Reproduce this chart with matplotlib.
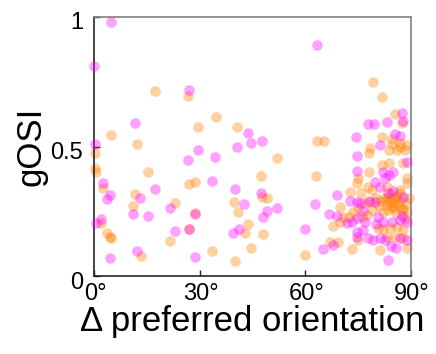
import matplotlib
matplotlib.use("Agg")
import matplotlib.pyplot as plt
import matplotlib.transforms as mtransforms

mag_x = [4.8, 0, 27, 11.6, 0.3, 26.7, 29.5, 2.6, 4.5, 3.7, 13, 17.3, 11.1, 15.3, 21.6, 2, 0.6, 28.7, 23, 27, 12.2, 4.5, 28.7,
         43.7, 44.6, 47.7, 40.6, 34.4, 33.5, 40, 47.4, 42.6, 49, 52, 48, 41.2, 39.5, 60,
         63.3, 87.4, 87.7, 83.2, 77.8, 79.5, 74.4, 85.5, 86.9, 81.2, 74.7, 88.9, 74.7, 82, 82.6, 79.8, 81.2, 69, 87.7, 62.7,
         72.7, 74.7, 75.5, 79.8, 66.7, 69, 71.7, 73.3, 74.7, 80.6, 82, 84.6, 86.9, 88.9, 76.5, 74.7, 74.7, 77.8, 79.2, 81.2,
         82.6, 86.9, 88.9, 67.9, 65, 84.4, 85.8, 83.5,
         83.5, 85, 78, 76.5, 87.5, 80, 77, 84.9, 83.8]
mag_y = [0.98, 0.81, 0.72, 0.59, 0.51, 0.448, 0.486, 0.36, 0.313, 0.297, 0.30, 0.336, 0.24, 0.232, 0.263, 0.22, 0.205, 0.24, 0.174, 0.18, 0.097, 0.07, 0.073,
         0.552, 0.513, 0.52, 0.50, 0.46, 0.367, 0.336, 0.32, 0.278, 0.25, 0.263, 0.228, 0.18, 0.166, 0.18,
         0.89, 0.63, 0.60, 0.595, 0.587, 0.587, 0.537, 0.55, 0.54, 0.506, 0.463, 0.44, 0.405, 0.40, 0.38, 0.363, 0.344, 0.313, 0.305, 0.278,
         0.29, 0.286, 0.282, 0.286, 0.24, 0.232, 0.206, 0.21, 0.224, 0.228, 0.208, 0.208, 0.216, 0.208, 0.178, 0.17, 0.15, 0.145, 0.139, 0.145,
         0.139, 0.145, 0.139, 0.12, 0.104, 0.116, 0.108, 0.062,
         0.32, 0.33, 0.29, 0.25, 0.23, 0.20, 0.21, 0.40, 0.39]

ora_x = [17.3, 26.7, 4.8, 12.2, 29.5, 0.3, 0.3, 0.6, 15.3, 2.6, 11.6, 27, 28.7, 11.1, 23, 2, 28.7, 27, 3.7, 4.5, 4.8, 21.6, 13.4,
         34.6, 40.6, 52, 47.4, 49, 47.7, 39.7, 41, 43.7, 42.9, 48, 44.6, 33.5, 40, 60,
         79.2, 81.8, 85.5, 87.4, 63.3, 65.3, 81.8, 84.6, 86.9, 88.9, 78.4, 84.6, 86.9, 88.3, 86.1, 83.8, 78, 81.8, 83.8, 87.7,
         63, 78, 75, 89, 74.7, 77.8, 72.7, 75.8, 79, 83.2, 86.9, 88.9, 83.5, 85, 84, 85.5, 83.2, 77, 78.4, 81.2, 82.6,
         69.8, 73.6, 75, 79, 82, 83.5, 84.9, 87.4, 88.9, 70.7, 72.4, 76.2, 77.5, 67.9, 69.8, 80.6, 82, 84, 86.1, 87.7,
         75, 83.2, 85.5, 87.7, 67, 69.3, 73.3, 81.2, 89,
         85.5, 87, 88.5, 86.5, 84.5, 87.8, 86, 89.3, 83, 85.8, 81, 80, 84.2, 86.8, 88.2]
ora_y = [0.714, 0.695, 0.545, 0.51, 0.575, 0.475, 0.417, 0.40, 0.40, 0.34, 0.317, 0.355, 0.363, 0.27, 0.282, 0.205, 0.243, 0.18, 0.166, 0.15, 0.145, 0.135, 0.077,
         0.614, 0.575, 0.455, 0.386, 0.30, 0.305, 0.286, 0.247, 0.20, 0.166, 0.162, 0.108, 0.097, 0.058, 0.08,
         0.75, 0.69, 0.625, 0.59, 0.52, 0.52, 0.537, 0.53, 0.50, 0.506, 0.494, 0.51, 0.514, 0.486, 0.486, 0.486, 0.475, 0.43, 0.436, 0.436,
         0.386, 0.40, 0.38, 0.38, 0.36, 0.344, 0.324, 0.32, 0.332, 0.344, 0.332, 0.36, 0.305, 0.30, 0.286, 0.282, 0.274, 0.28, 0.286, 0.29, 0.30,
         0.266, 0.247, 0.263, 0.255, 0.247, 0.255, 0.263, 0.255, 0.247, 0.228, 0.228, 0.228, 0.236, 0.193, 0.208, 0.185, 0.181, 0.185, 0.189, 0.178,
         0.139, 0.151, 0.151, 0.147, 0.13, 0.13, 0.104, 0.10, 0.108,
         0.30, 0.29, 0.28, 0.27, 0.265, 0.26, 0.31, 0.30, 0.29, 0.245, 0.27, 0.30, 0.315, 0.32, 0.22]

x_ticks = [0, 30, 60, 90]
x_ticklabels = ["0°", "30°", "60°", "90°"]
y_ticks = [0, 0.5, 1]
y_ticklabels = ["0", "0.5", "1"]

plt.rcParams['font.family'] = ['Liberation Sans', 'DejaVu Sans']

fig = plt.figure(figsize=(4.36, 3.54), dpi=100)
ax = fig.add_axes([0.2156, 0.2203, 0.7271, 0.7317])

ax.scatter(ora_x, ora_y, s=58, color='#FF8000', alpha=0.37, linewidths=0, clip_on=False, zorder=2)
ax.scatter(mag_x, mag_y, s=58, color='#FF00FF', alpha=0.37, linewidths=0, clip_on=False, zorder=3)

ax.set_xlim(0, 90)
ax.set_ylim(0, 1)
ax.set_xticks(x_ticks)
ax.set_xticklabels(x_ticklabels)
ax.set_yticks(y_ticks)
ax.set_yticklabels(y_ticklabels)
ax.tick_params(direction='in', length=4, width=1, labelsize=17, colors='#222222')
ax.tick_params(axis='x', pad=5)
ax.tick_params(axis='y', pad=8)

dx = mtransforms.ScaledTranslation(1 / 100, 0, fig.dpi_scale_trans)
for lab in ax.get_xticklabels():
    lab.set_color('black')
    lab.set_transform(lab.get_transform() + dx)
dy = mtransforms.ScaledTranslation(0, -4 / 100, fig.dpi_scale_trans)
for lab in ax.get_yticklabels():
    lab.set_color('black')
    lab.set_transform(lab.get_transform() + dy)

for side in ['left', 'bottom']:
    ax.spines[side].set_color('#262626')
    ax.spines[side].set_linewidth(1.2)
for side in ['top', 'right']:
    ax.spines[side].set_color('#808080')
    ax.spines[side].set_linewidth(1.2)

ax.set_xlabel("Δ preferred orientation", fontsize=25, labelpad=0)
ax.set_ylabel("gOSI", fontsize=25, labelpad=2)

fig.savefig("out.png", dpi=100)
